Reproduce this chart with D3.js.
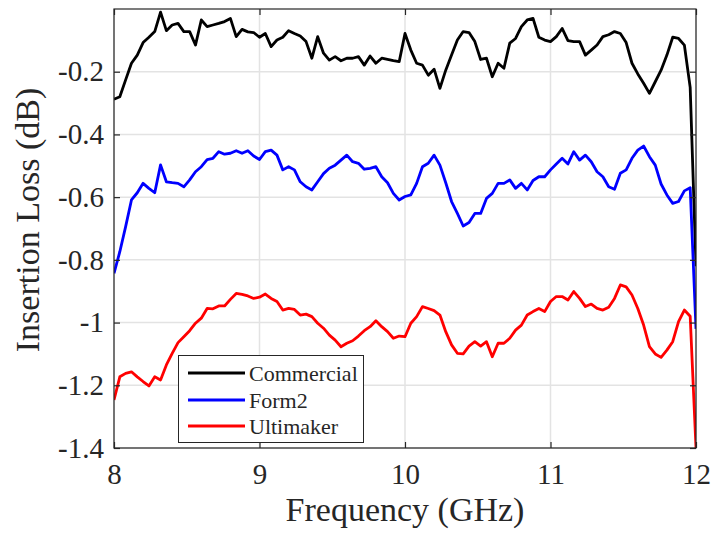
<!DOCTYPE html>
<html>
<head>
<meta charset="utf-8">
<script src="https://cdn.jsdelivr.net/npm/d3@7/dist/d3.min.js"></script>
<style>
html,body{margin:0;padding:0;background:#fff;}
svg{display:block;}
text{font-family:"Liberation Serif","Times New Roman",serif;fill:#262626;}
</style>
</head>
<body>
<svg id="chart" width="714" height="541"></svg>
<script>
// Frequency grid (GHz), 8 to 12 in steps of 0.04
const freq = d3.range(0, 101).map(i => +(8 + i * 0.04).toFixed(2));

const commercial = [
 -0.288,-0.280,-0.226,-0.173,-0.147,-0.107,-0.090,-0.072,-0.010,-0.069,
 -0.051,-0.046,-0.072,-0.072,-0.115,-0.035,-0.056,-0.051,-0.046,-0.040,
 -0.030,-0.088,-0.065,-0.073,-0.075,-0.090,-0.078,-0.120,-0.099,-0.090,
 -0.069,-0.078,-0.086,-0.104,-0.157,-0.088,-0.141,-0.163,-0.152,-0.165,
 -0.157,-0.157,-0.152,-0.179,-0.150,-0.173,-0.157,-0.161,-0.165,-0.168,
 -0.078,-0.131,-0.173,-0.179,-0.211,-0.192,-0.253,-0.195,-0.147,-0.099,
 -0.072,-0.075,-0.104,-0.161,-0.157,-0.216,-0.173,-0.189,-0.109,-0.094,
 -0.056,-0.035,-0.030,-0.090,-0.099,-0.104,-0.088,-0.062,-0.101,-0.104,
 -0.104,-0.147,-0.131,-0.115,-0.088,-0.082,-0.072,-0.078,-0.107,-0.173,
 -0.207,-0.237,-0.269,-0.232,-0.195,-0.147,-0.090,-0.094,-0.115,-0.250,
 -0.820
];

const form2 = [
 -0.843,-0.774,-0.694,-0.609,-0.586,-0.556,-0.572,-0.586,-0.497,-0.551,
 -0.554,-0.556,-0.567,-0.545,-0.519,-0.503,-0.480,-0.476,-0.455,-0.463,
 -0.460,-0.452,-0.460,-0.452,-0.469,-0.480,-0.455,-0.450,-0.466,-0.513,
 -0.503,-0.513,-0.551,-0.567,-0.577,-0.551,-0.525,-0.508,-0.498,-0.482,
 -0.466,-0.487,-0.492,-0.511,-0.508,-0.503,-0.535,-0.554,-0.588,-0.609,
 -0.598,-0.593,-0.556,-0.503,-0.492,-0.466,-0.498,-0.554,-0.614,-0.652,
 -0.692,-0.681,-0.652,-0.652,-0.604,-0.588,-0.556,-0.556,-0.545,-0.572,
 -0.556,-0.577,-0.547,-0.535,-0.535,-0.513,-0.494,-0.476,-0.494,-0.455,
 -0.482,-0.466,-0.487,-0.519,-0.535,-0.567,-0.575,-0.524,-0.513,-0.476,
 -0.450,-0.437,-0.471,-0.498,-0.558,-0.593,-0.620,-0.614,-0.580,-0.570,
 -1.020
];

const ultimaker = [
 -1.247,-1.173,-1.162,-1.157,-1.173,-1.188,-1.202,-1.173,-1.183,-1.135,
 -1.098,-1.064,-1.045,-1.026,-1.002,-0.986,-0.955,-0.956,-0.947,-0.947,
 -0.926,-0.907,-0.910,-0.915,-0.923,-0.919,-0.909,-0.923,-0.933,-0.960,
 -0.955,-0.958,-0.976,-0.973,-0.981,-1.002,-1.018,-1.040,-1.056,-1.077,
 -1.066,-1.058,-1.043,-1.026,-1.013,-0.994,-1.013,-1.029,-1.050,-1.043,
 -1.045,-1.002,-0.981,-0.949,-0.955,-0.962,-0.976,-1.029,-1.071,-1.098,
 -1.100,-1.075,-1.061,-1.075,-1.061,-1.109,-1.066,-1.066,-1.050,-1.024,
 -1.008,-0.976,-0.965,-0.955,-0.965,-0.933,-0.917,-0.917,-0.928,-0.901,
 -0.923,-0.949,-0.941,-0.955,-0.960,-0.951,-0.923,-0.880,-0.886,-0.912,
 -0.955,-1.008,-1.077,-1.100,-1.111,-1.088,-1.061,-0.997,-0.960,-0.980,
 -1.400
];

const seriesNames = ["Commercial", "Form2", "Ultimaker"];
const seriesColors = ["#000000", "#0000ff", "#ff0000"];
const xTicks = [8, 9, 10, 11, 12];
const yTicks = [-1.4, -1.2, -1, -0.8, -0.6, -0.4, -0.2];
const xLabel = "Frequency (GHz)";
const yLabel = "Insertion Loss (dB)";

const svg = d3.select("#chart");
const L = 114, R = 696, T = 9, B = 448;
const x = d3.scaleLinear().domain([8, 12]).range([L, R]);
const y = d3.scaleLinear().domain([-1.4, 0]).range([B, T]);

// grid
const g = svg.append("g");
g.selectAll(".gx").data(xTicks).join("line")
  .attr("x1", d => x(d)).attr("x2", d => x(d)).attr("y1", T).attr("y2", B)
  .attr("stroke", "#e3e3e3").attr("stroke-width", 1.5);
g.selectAll(".gy").data(yTicks).join("line")
  .attr("y1", d => y(d)).attr("y2", d => y(d)).attr("x1", L).attr("x2", R)
  .attr("stroke", "#e3e3e3").attr("stroke-width", 1.5);

// clip
svg.append("clipPath").attr("id", "clip").append("rect")
  .attr("x", L).attr("y", T).attr("width", R - L).attr("height", B - T);

const seriesData = [commercial, form2, ultimaker];
const line = d3.line().x((d, i) => x(freq[i])).y(d => y(d));
svg.append("g").attr("clip-path", "url(#clip)")
  .selectAll("path").data(seriesData).join("path")
  .attr("d", d => line(d))
  .attr("fill", "none")
  .attr("stroke", (d, i) => seriesColors[i])
  .attr("stroke-width", 2.8)
  .attr("stroke-linejoin", "round");

// axes box
const axisColor = "#262626";
const tickLen = 6;
const tickFont = 29;
const ax = svg.append("g");
ax.append("rect").attr("x", L).attr("y", T).attr("width", R - L).attr("height", B - T)
  .attr("fill", "none").attr("stroke", axisColor).attr("stroke-width", 1.2);

const xAxisB = d3.axisBottom(x).tickValues(xTicks).tickSize(-tickLen).tickPadding(14)
  .tickFormat(d3.format("d"));
const gxB = svg.append("g").attr("transform", `translate(0,${B})`).call(xAxisB);
gxB.select(".domain").remove();
gxB.selectAll("line").attr("stroke", axisColor).attr("stroke-width", 1.2);
gxB.selectAll("text").attr("font-size", tickFont).attr("fill", axisColor)
  .attr("font-family", "Liberation Serif, serif").attr("dy", "0.75em");

const xAxisT = d3.axisTop(x).tickValues(xTicks).tickSize(-tickLen).tickFormat("");
const gxT = svg.append("g").attr("transform", `translate(0,${T})`).call(xAxisT);
gxT.select(".domain").remove();
gxT.selectAll("line").attr("stroke", axisColor).attr("stroke-width", 1.2);

const yAxisL = d3.axisLeft(y).tickValues(yTicks).tickSize(-tickLen).tickPadding(10)
  .tickFormat(d => d3.format("")(d).replace("−", "-"));
const gyL = svg.append("g").attr("transform", `translate(${L},0)`).call(yAxisL);
gyL.select(".domain").remove();
gyL.selectAll("line").attr("stroke", axisColor).attr("stroke-width", 1.2);
gyL.selectAll("text").attr("font-size", tickFont).attr("fill", axisColor)
  .attr("font-family", "Liberation Serif, serif");

const yAxisR = d3.axisRight(y).tickValues(yTicks).tickSize(-tickLen).tickFormat("");
const gyR = svg.append("g").attr("transform", `translate(${R},0)`).call(yAxisR);
gyR.select(".domain").remove();
gyR.selectAll("line").attr("stroke", axisColor).attr("stroke-width", 1.2);

// axis labels
svg.append("text").attr("x", (L + R) / 2).attr("y", 521)
  .attr("text-anchor", "middle").attr("font-size", 34).text(xLabel);
svg.append("text").attr("transform", `translate(39,220) rotate(-90)`)
  .attr("text-anchor", "middle").attr("font-size", 34).text(yLabel);

// legend
const lg = svg.append("g");
lg.append("rect").attr("x", 178.5).attr("y", 355.5).attr("width", 185).attr("height", 87)
  .attr("fill", "#fff").attr("stroke", axisColor).attr("stroke-width", 1);
const rowY = [373, 400, 426];
seriesNames.forEach((name, i) => {
  lg.append("line").attr("x1", 188).attr("x2", 245).attr("y1", rowY[i]).attr("y2", rowY[i])
    .attr("stroke", seriesColors[i]).attr("stroke-width", 2.8);
  lg.append("text").attr("x", 249).attr("y", rowY[i]).attr("dy", "0.35em")
    .attr("font-size", 22).text(name);
});
</script>
</body>
</html>
